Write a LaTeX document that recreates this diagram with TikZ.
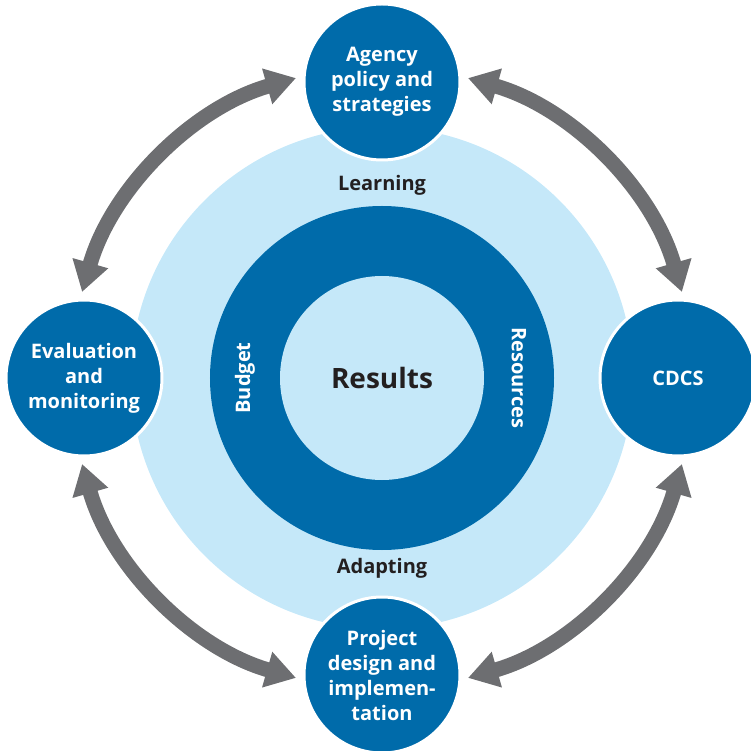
\documentclass[tikz,border=0pt]{standalone}
\usepackage{fontspec}
\setmainfont{Open Sans}
\usetikzlibrary{arrows.meta}
\definecolor{darkblue}{RGB}{0,107,170}
\definecolor{paleblue}{RGB}{197,232,249}
\definecolor{arrowgray}{RGB}{109,110,113}
\definecolor{textdark}{RGB}{35,31,32}

\begin{document}
\begin{tikzpicture}[x=1pt,y=1pt,
	stage/.style={circle, fill=darkblue, draw=white, line width=3pt, minimum size=156pt,
		inner sep=0pt, text=white, align=center, font=\bfseries\fontsize{20}{25}\selectfont},
	link/.style={draw=arrowgray, line width=15pt,
		{Triangle[width=35pt,length=30pt]}-{Triangle[width=35pt,length=30pt]}},
	ringlabel/.style={text=white, font=\bfseries\fontsize{20}{24}\selectfont},
	phase/.style={text=textdark, font=\bfseries\fontsize{20}{24}\selectfont}]

	\useasboundingbox (-382,-373) rectangle (368,378);
	
	\fill[paleblue] (0,0) circle (251);
	\node[circle, fill=darkblue, minimum size=344pt, inner sep=0pt] (ring) at (0,0) {};
	\node[circle, fill=paleblue, minimum size=204pt, inner sep=0pt, text=textdark,
		font=\bfseries\fontsize{28}{32}\selectfont] (results) at (0,0) {Results};
	\node[ringlabel, rotate=90] (budget) at (-137,0) {Budget};
	\node[ringlabel, rotate=-90] (resources) at (137,0) {Resources};
	\node[phase] (learning) at (0,193) {Learning};
	\node[phase] (adapting) at (0,-190) {Adapting};
	
	% two-way arrows between the stages
	\foreach \a/\n in {45/ne,135/nw,225/sw,315/se}{
		\coordinate (\n) at (\a-29:312);
		\draw[link] (\n) arc[start angle=\a-29, end angle=\a+29, radius=312];
	}
	
	\node[stage] (agency) at (0,296) {Agency\\policy and\\strategies};
	\node[stage] (evaluation) at (-298,0) {Evaluation\\and\\monitoring};
	\node[stage] (cdcs) at (296,0) {CDCS};
	\node[stage] (project) at (0,-297) {Project\\design and\\implemen-\\tation};
\end{tikzpicture}
\end{document}
